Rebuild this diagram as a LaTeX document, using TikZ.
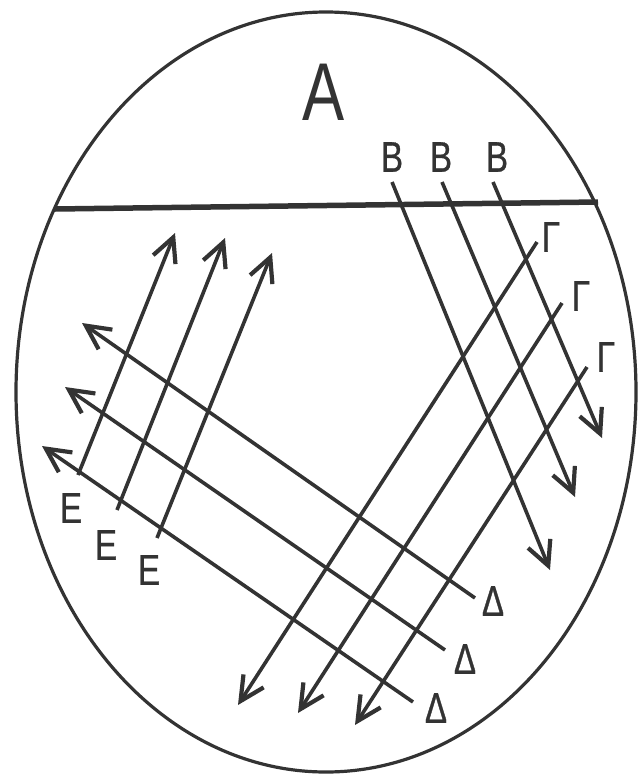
\documentclass[tikz,border=0pt]{standalone}
\usepackage{fontspec}
\setmainfont{Liberation Sans}[FakeStretch=0.77]
\newfontfamily\labfont{Liberation Sans}[FakeStretch=0.77, FakeBold=0.8]
\usetikzlibrary{arrows.meta}
\definecolor{ink}{HTML}{333333}

\begin{document}
\begin{tikzpicture}[x=1pt, y=-1pt,
    every node/.style={text=ink, inner sep=0pt},
    rim/.style={draw=ink, line width=3.2pt},
    bar/.style={draw=ink, line width=5.5pt},
    ray/.style={draw=ink, line width=3.6pt, -{Straight Barb[length=24pt, width=24pt, line width=4.2pt]}},
    lab/.style={font=\labfont\fontsize{43}{43}\selectfont},
    big/.style={font=\fontsize{82}{82}\selectfont},
]
\useasboundingbox (0,0) rectangle (640,777);

% ============================================================ dish and rim line
\coordinate (barl) at (55,209);
\coordinate (barr) at (598,202);
\draw[bar] (barl) -- (barr);
\draw[rim] (326,392) ellipse [x radius=310, y radius=380];

\node[big] (a) at (324,92) {Α};

% ============================================================ B: down to the right
\node[lab] (b1) at (392,157) {Β};
\node[lab] (b2) at (441,157) {Β};
\node[lab] (b3) at (497,157) {Β};
\coordinate (b1s) at (392,182); \coordinate (b1e) at (550,570);
\coordinate (b2s) at (442,182); \coordinate (b2e) at (575,497);
\coordinate (b3s) at (493,182); \coordinate (b3e) at (602,438);
\draw[ray] (b1s) -- (b1e);
\draw[ray] (b2s) -- (b2e);
\draw[ray] (b3s) -- (b3e);

% ============================================================ Γ: down to the left
\node[lab] (g1) at (551,237) {Γ};
\node[lab] (g2) at (581,296) {Γ};
\node[lab] (g3) at (606,357) {Γ};
\coordinate (g1s) at (537,242); \coordinate (g1e) at (238,705);
\coordinate (g2s) at (562,303); \coordinate (g2e) at (298,713);
\coordinate (g3s) at (587,367); \coordinate (g3e) at (355,725);
\draw[ray] (g1s) -- (g1e);
\draw[ray] (g2s) -- (g2e);
\draw[ray] (g3s) -- (g3e);

% ============================================================ Δ: up to the left
\node[lab] (d1) at (493,601) {Δ};
\node[lab] (d2) at (465,659) {Δ};
\node[lab] (d3) at (436,708) {Δ};
\coordinate (d1s) at (475,598); \coordinate (d1e) at (82,323);
\coordinate (d2s) at (445,650); \coordinate (d2e) at (65,387);
\coordinate (d3s) at (413,702); \coordinate (d3e) at (42,446);
\draw[ray] (d1s) -- (d1e);
\draw[ray] (d2s) -- (d2e);
\draw[ray] (d3s) -- (d3e);

% ============================================================ E: up to the right
\node[lab] (e1) at (71,508) {Ε};
\node[lab] (e2) at (106,545) {Ε};
\node[lab] (e3) at (149,570) {Ε};
\coordinate (e1s) at (78,475); \coordinate (e1e) at (175,233);
\coordinate (e2s) at (117,510); \coordinate (e2e) at (225,238);
\coordinate (e3s) at (157,538); \coordinate (e3e) at (272,253);
\draw[ray] (e1s) -- (e1e);
\draw[ray] (e2s) -- (e2e);
\draw[ray] (e3s) -- (e3e);

\end{tikzpicture}
\end{document}
